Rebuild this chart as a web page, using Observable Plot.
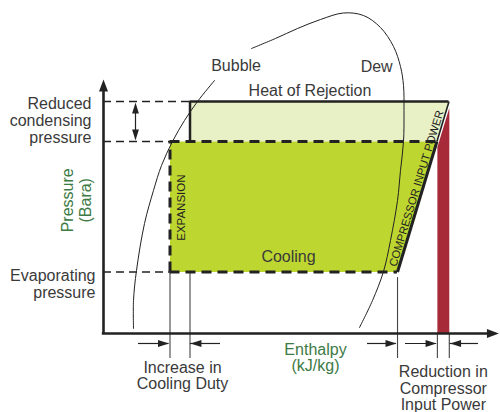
<!DOCTYPE html>
<html><head><meta charset="utf-8">
<script src="https://cdn.jsdelivr.net/npm/d3@7"></script>
<script src="https://cdn.jsdelivr.net/npm/@observablehq/plot@0.6"></script>
<style>body{margin:0;background:#fff}</style>
</head><body><div id="chart"></div>
<script>
// ---- schematic values (enthalpy units 0-100, pressure units 0-100) ----
const pEvap = 18.47;        // evaporating pressure
const pCondNew = 57.66;     // reduced condensing pressure
const pCondOld = 69.67;     // original condensing pressure
const hLiqNew = 16.75;      // liquid enthalpy, reduced condensing
const hLiqOld = 21.79;      // liquid enthalpy, original
const hSuction = 74.06;     // end of evaporation
const hDischNew = 83.99;    // discharge, reduced condensing
const hDischOld = 87.03;    // discharge, original
const redX = [84.1, 87.1];
const redTop = [55.9, 67.7];

// saturation dome (bubble side, below label) and dome from label over to dew side
const bubbleH = [7.56, 7.56, 8.31, 10.33, 12.59, 14.61, 17.38, 20.40, 23.68, 27.96];
const bubbleP = [1.50, 9.91, 18.92, 33.03, 42.94, 50.45, 57.66, 63.96, 69.67, 75.98];
const domeH = [37.28, 43.32, 48.87, 54.66, 60.45, 65.49, 69.77, 73.05, 74.81, 75.57, 75.69, 75.57, 74.81, 74.06, 72.29, 70.53, 67.76, 64.48];
const domeP = [85.59, 88.59, 91.59, 94.29, 96.25, 95.50, 91.89, 86.19, 80.18, 74.47, 66.97, 57.66, 48.95, 39.94, 27.93, 18.62, 9.91, 1.80];

// labels
const levelLabels = ["Reduced\ncondensing\npressure", "Evaporating\npressure"];
const levelLabelP = [63.96, 14.86];
const levelLabelH = [-3.02, -2.02];
const axisTitles = ["Pressure\n(Bara)", "Enthalpy\n(kJ/kg)"];
const noteLabels = ["Increase in\nCooling Duty", "Reduction in\nCompressor\nInput Power"];
const noteH = [19.9, 85.6];
const noteP = [-12.6, -16.5];
const curveLabels = ["Bubble", "Dew", "Heat of Rejection", "Cooling"];
const curveLabelH = [33.4, 68.8, 52.0, 46.6];
const curveLabelP = [80.3, 80.2, 73.0, 23.1];

const ink = "#222";
const txt = "#3a3a3a";
const green = "#3d7a45";
const arrowY = -3.0;
const tickBottom = -7.5;

const poly = (hs, ps) => hs.map((h, i) => ({h, p: ps[i]}));
const lightPoly = poly([hLiqOld, hDischOld, hDischNew, hLiqOld], [pCondOld, pCondOld, pCondNew, pCondNew]);
const greenPoly = poly([hLiqNew, hDischNew, hSuction, hLiqNew], [pCondNew, pCondNew, pEvap, pEvap]);
const redPoly = poly([redX[0], redX[1], redX[1], redX[0]], [redTop[0], redTop[1], 0, 0]);

function head(L, hw) {
  return {draw(ctx) { ctx.moveTo(0, 0); ctx.lineTo(hw, L); ctx.lineTo(-hw, L); ctx.closePath(); }};
}
const smallHead = head(11, 3.4);
const axisHead = head(12, 4.5);

// arrows below the axis: [tail, tip]
const arrows = [
  {t: 8.82, h: 16.5}, {t: 29.47, h: 21.9}, {t: 66.5, h: 73.8}, {t: 76.07, h: 83.9}, {t: 94.46, h: 87.3}
];
const tickLines = [
  {h: hLiqNew, top: pEvap}, {h: hLiqOld, top: 18.3}, {h: hSuction, top: 16.8}, {h: redX[0], top: 0}, {h: redX[1], top: 0}
];

const dashThin = "8,5";
const dashThick = "10,6";

const chart = Plot.plot({
  width: 500, height: 412,
  marginLeft: 103, marginRight: 0, marginTop: 0, marginBottom: 79,
  x: {domain: [0, 100], axis: null},
  y: {domain: [0, 100], axis: null},
  style: {fontFamily: "'Liberation Sans', Arial, sans-serif", background: "white", overflow: "visible"},
  marks: [
    Plot.line(lightPoly, {x: "h", y: "p", fill: "#e8f0c6", stroke: "none"}),
    Plot.line(greenPoly, {x: "h", y: "p", fill: "#bdd630", stroke: "none"}),
    Plot.line(redPoly, {x: "h", y: "p", fill: "#a62a37", stroke: "none"}),
    // thin guide lines
    Plot.ruleY([pCondOld], {x1: 0, x2: hLiqOld, stroke: ink, strokeWidth: 1.3, strokeDasharray: dashThin}),
    Plot.ruleY([pCondNew, pEvap], {x1: 0, x2: hLiqNew, stroke: ink, strokeWidth: 1.3, strokeDasharray: dashThin}),
    Plot.ruleX(tickLines, {x: "h", y1: tickBottom, y2: "top", stroke: "#444", strokeWidth: 1.1}),
    // saturation dome
    Plot.line(poly(bubbleH, bubbleP), {x: "h", y: "p", curve: "catmull-rom", stroke: ink, strokeWidth: 1}),
    Plot.line(poly(domeH, domeP), {x: "h", y: "p", curve: "catmull-rom", stroke: ink, strokeWidth: 1}),
    // cycle borders
    Plot.ruleY([pCondOld], {x1: hLiqOld, x2: hDischOld, stroke: ink, strokeWidth: 2.5}),
    Plot.ruleX([hLiqOld], {y1: pCondNew, y2: pCondOld, stroke: ink, strokeWidth: 2.5}),
    Plot.ruleY([pCondNew], {x1: hLiqNew, x2: hDischNew, stroke: ink, strokeWidth: 3, strokeDasharray: dashThick}),
    Plot.ruleY([pEvap], {x1: hLiqNew, x2: hSuction, stroke: ink, strokeWidth: 3, strokeDasharray: dashThick}),
    Plot.ruleX([hLiqNew], {y1: pEvap, y2: pCondNew, stroke: ink, strokeWidth: 3, strokeDasharray: dashThick}),
    Plot.link([{a: hSuction, b: pEvap, c: hDischNew, d: pCondNew}], {x1: "a", y1: "b", x2: "c", y2: "d", stroke: ink, strokeWidth: 3}),
    Plot.link([{a: hDischNew, b: pCondNew, c: hDischOld, d: pCondOld}], {x1: "a", y1: "b", x2: "c", y2: "d", stroke: ink, strokeWidth: 1.6}),
    // axes
    Plot.ruleX([0], {y1: 0, y2: 73, stroke: ink, strokeWidth: 2.6}),
    Plot.ruleY([0], {x1: -0.3, x2: 97, stroke: ink, strokeWidth: 2.6}),
    Plot.dot([{h: 0, p: 76.3, r: 0}], {x: "h", y: "p", symbol: axisHead, fill: ink, stroke: "none", r: 4}),
    Plot.dot([{h: 99.6, p: 0}], {x: "h", y: "p", symbol: axisHead, fill: ink, stroke: "none", r: 4, rotate: 90}),
    // double arrow between condensing pressures
    Plot.ruleX([8.06], {y1: pCondNew + 2, y2: pCondOld - 2, stroke: ink, strokeWidth: 1.2}),
    Plot.dot([{p: pCondOld - 0.3, r: 0}, {p: pCondNew + 0.3, r: 180}], {x: () => 8.06, y: "p", rotate: "r", symbol: smallHead, fill: ink, stroke: "none", r: 4}),
    // arrows below axis
    Plot.ruleY(arrows, {x1: "t", x2: "h", y: () => arrowY, stroke: ink, strokeWidth: 1.2}),
    Plot.dot(arrows, {x: "h", y: () => arrowY, rotate: d => d.h > d.t ? 90 : -90, symbol: smallHead, fill: ink, stroke: "none", r: 4}),
    // texts
    Plot.text(levelLabels, {x: (d, i) => levelLabelH[i], y: (d, i) => levelLabelP[i], text: d => d, textAnchor: "end", fontSize: 16, lineHeight: 1.08, fill: txt}),
    Plot.text([axisTitles[0]], {x: () => -6.8, y: () => 40.0, text: d => d, rotate: -90, fontSize: 16, lineHeight: 1.1, fill: green}),
    Plot.text([axisTitles[1]], {x: () => 53.4, y: () => -7.36, text: d => d, fontSize: 16, lineHeight: 1.0, fill: green}),
    Plot.text(noteLabels, {x: (d, i) => noteH[i], y: (d, i) => noteP[i], text: d => d, fontSize: 16, lineHeight: 1.03, fill: txt}),
    Plot.text(curveLabels, {x: (d, i) => curveLabelH[i], y: (d, i) => curveLabelP[i], text: d => d, fontSize: 16, fill: txt}),
    Plot.text(["EXPANSION"], {x: () => 19.65, y: () => 37.8, text: d => d, rotate: -90, fontSize: 11.5, fill: ink}),
    Plot.text(["COMPRESSOR INPUT POWER"], {x: () => 78.84, y: () => 43.54, text: d => d, rotate: -73, fontSize: 11.2, fill: ink})
  ]
});
document.getElementById("chart").appendChild(chart);
</script>
</body></html>
